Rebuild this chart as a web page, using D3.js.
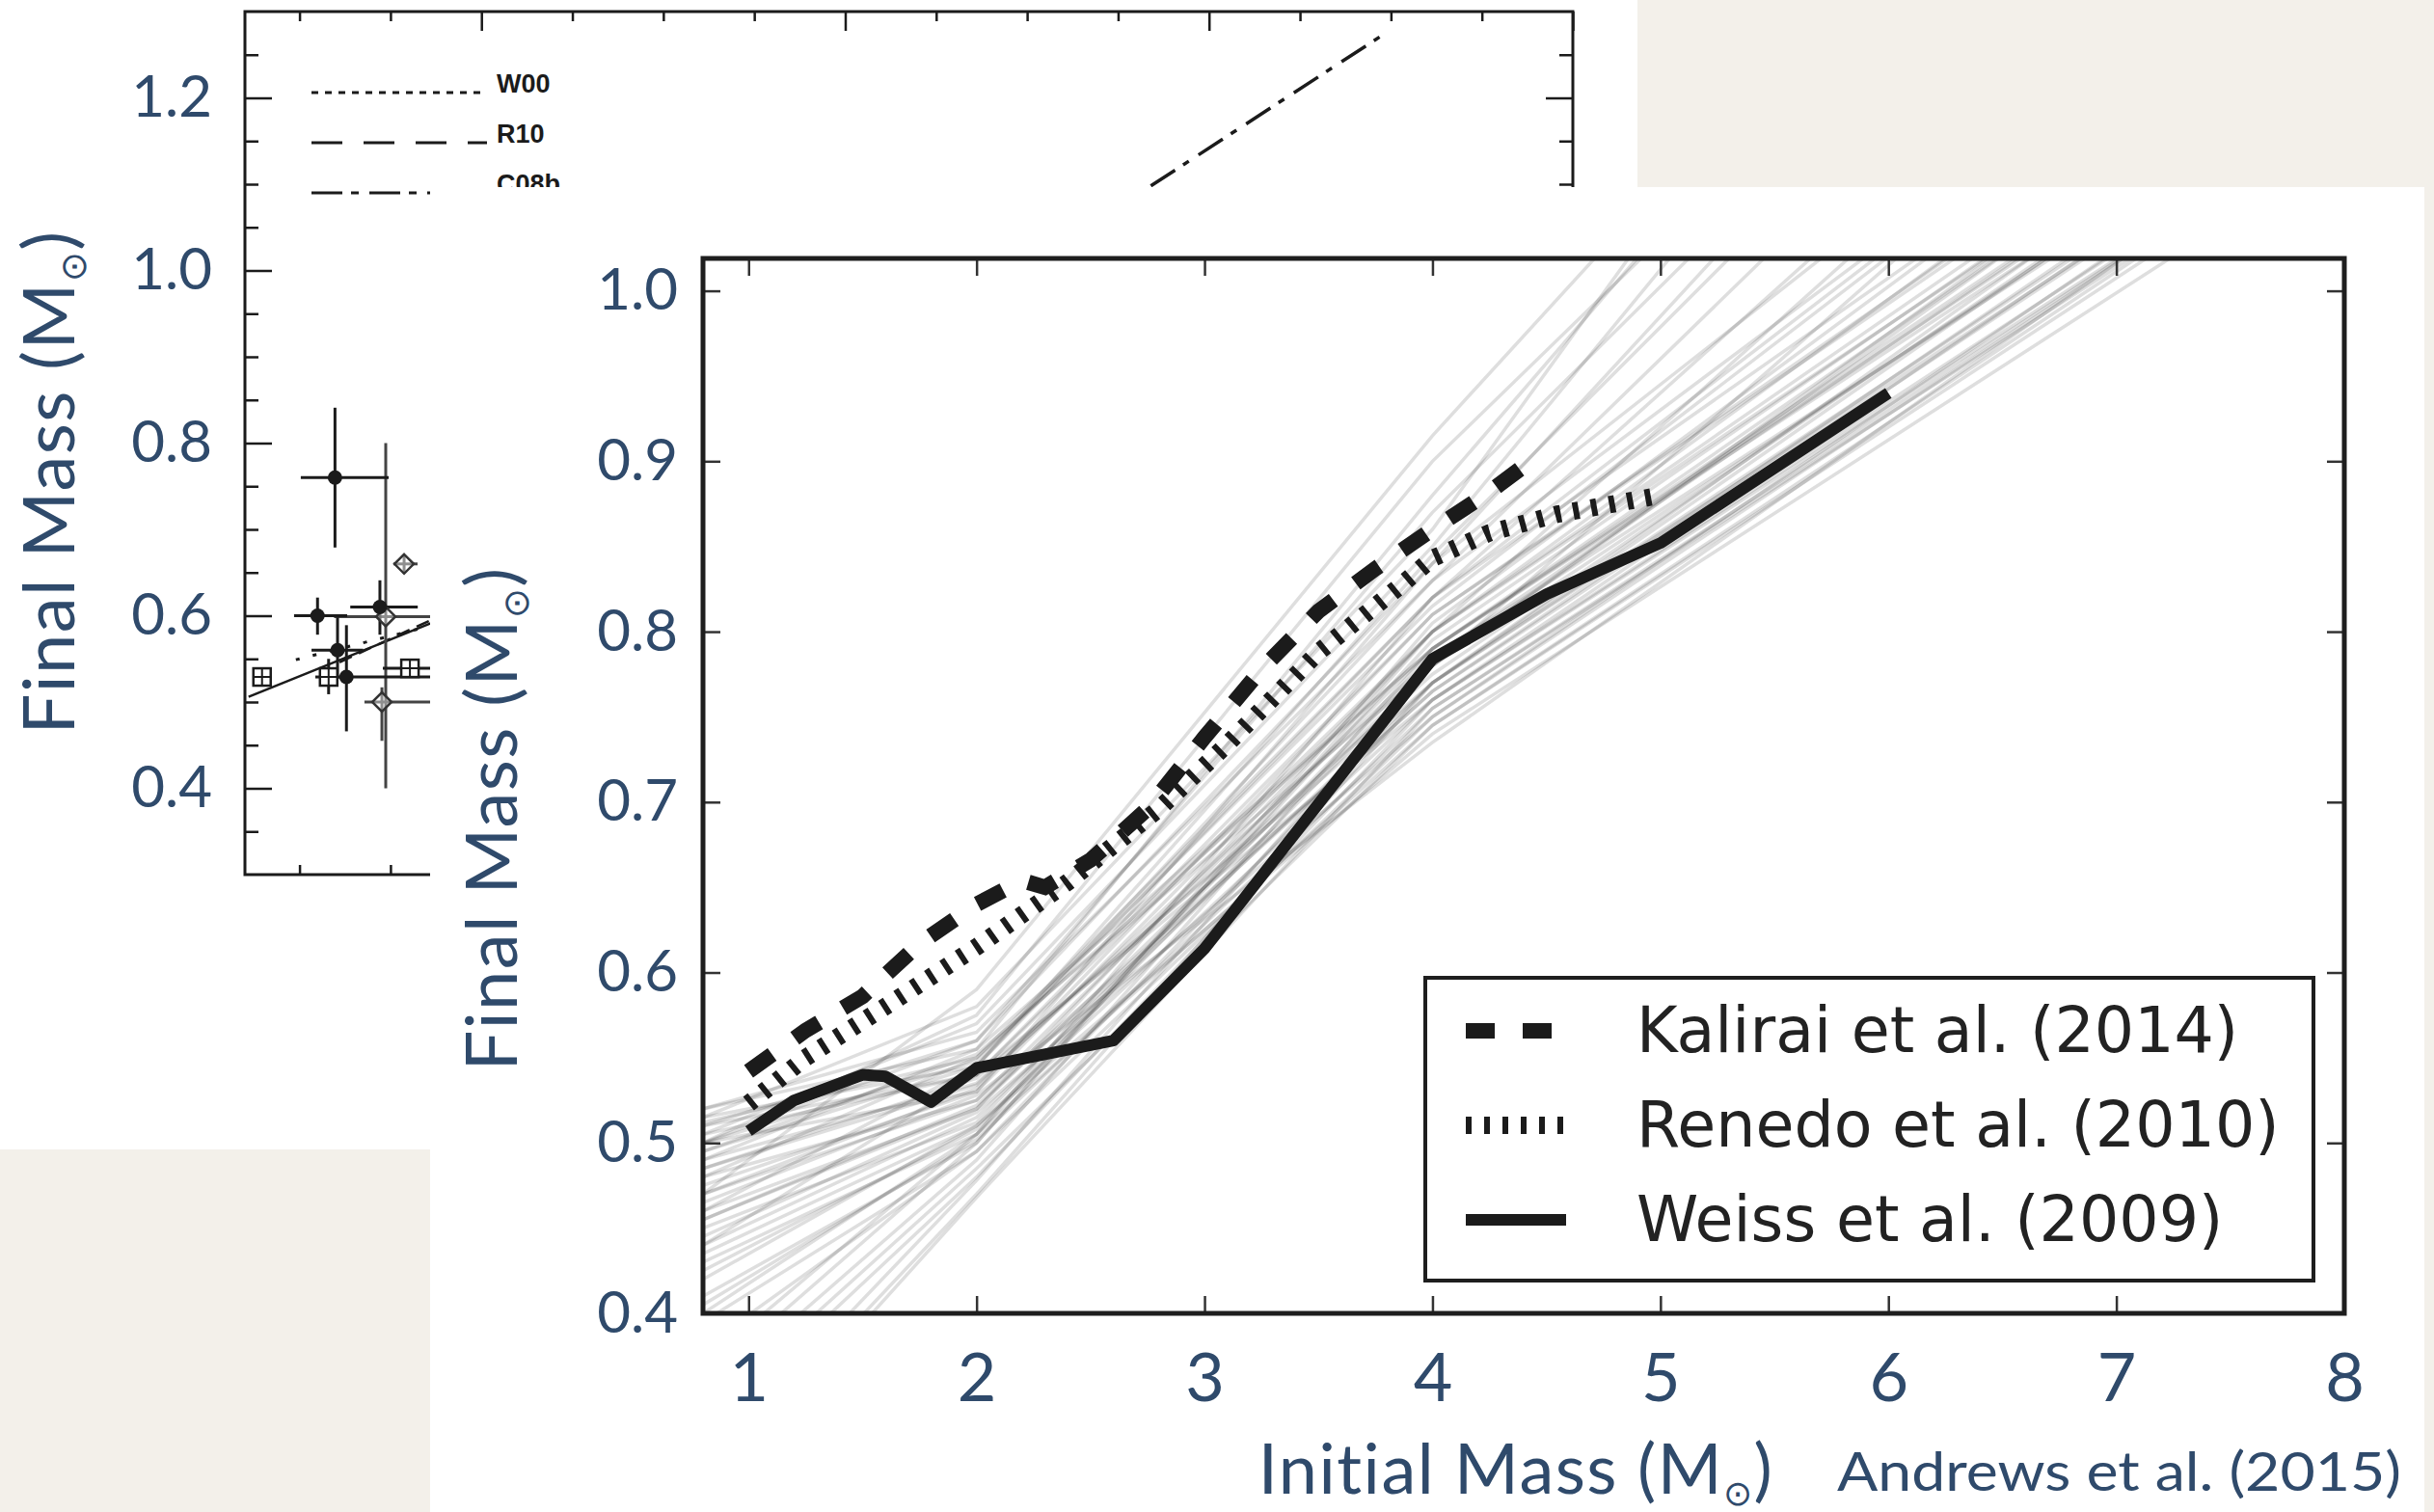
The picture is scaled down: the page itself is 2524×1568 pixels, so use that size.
<!DOCTYPE html>
<html>
<head>
<meta charset="utf-8">
<script src="https://cdn.jsdelivr.net/npm/d3@7"></script>
<style>
  body { margin: 0; background: #f3f0ea; }
  svg { display: block; }
</style>
</head>
<body>
<svg id="slide"></svg>
<script>
// ---------- front figure: Andrews et al. (2015) ----------
const kalMass  = [1.0, 1.25, 1.5, 1.75, 2.0, 2.2, 2.3, 2.5, 2.75, 3.0, 3.25, 3.5, 3.75, 4.0, 4.25, 4.4];
const kalFinal = [0.542, 0.566, 0.586, 0.617, 0.640, 0.654, 0.650, 0.666, 0.696, 0.738, 0.778, 0.812, 0.837, 0.860, 0.882, 0.897];

const renMass  = [1.0, 1.25, 1.6, 2.0, 2.4, 2.8, 3.1, 3.5, 3.85, 4.0, 4.25, 4.55, 5.0];
const renFinal = [0.523, 0.550, 0.580, 0.615, 0.653, 0.696, 0.734, 0.788, 0.826, 0.843, 0.858, 0.869, 0.880];

const weissMass  = [1.0, 1.2, 1.5, 1.6, 1.8, 2.0, 2.6, 3.0, 4.0, 4.5, 5.0, 6.0];
const weissFinal = [0.507, 0.525, 0.540, 0.539, 0.524, 0.544, 0.560, 0.614, 0.784, 0.822, 0.852, 0.940];

// posterior sample relations, final mass at the break masses
const ensMass = [0.8, 2, 4, 8];
const ensFinal = [
  [0.400, 0.505, 0.745, 1.095], [0.420, 0.510, 0.760, 1.110], [0.440, 0.515, 0.770, 1.125],
  [0.460, 0.520, 0.780, 1.135], [0.480, 0.525, 0.790, 1.150], [0.500, 0.530, 0.800, 1.160],
  [0.510, 0.540, 0.810, 1.180], [0.515, 0.545, 0.820, 1.195], [0.490, 0.535, 0.775, 1.140],
  [0.470, 0.525, 0.765, 1.130], [0.450, 0.512, 0.785, 1.150], [0.430, 0.505, 0.795, 1.165],
  [0.410, 0.500, 0.805, 1.200], [0.395, 0.495, 0.770, 1.120], [0.380, 0.495, 0.750, 1.105],
  [0.505, 0.540, 0.760, 1.105], [0.512, 0.550, 0.790, 1.140], [0.495, 0.545, 0.830, 1.230],
  [0.475, 0.530, 0.840, 1.260], [0.455, 0.520, 0.800, 1.170], [0.435, 0.510, 0.740, 1.085],
  [0.465, 0.528, 0.735, 1.110], [0.445, 0.518, 0.750, 1.115], [0.425, 0.508, 0.780, 1.170],
  [0.485, 0.538, 0.770, 1.150], [0.500, 0.548, 0.815, 1.225], [0.520, 0.555, 0.790, 1.145],
  [0.470, 0.532, 0.810, 1.175], [0.330, 0.480, 0.760, 1.125], [0.300, 0.470, 0.770, 1.140],
  [0.350, 0.490, 0.790, 1.160], [0.360, 0.500, 0.800, 1.190], [0.340, 0.485, 0.745, 1.100],
  [0.370, 0.505, 0.820, 1.230], [0.310, 0.478, 0.780, 1.165], [0.290, 0.468, 0.755, 1.100],
  [0.515, 0.580, 0.860, 1.600], [0.505, 0.570, 0.850, 1.500], [0.500, 0.560, 0.840, 1.420],
  [0.490, 0.555, 0.880, 1.500], [0.470, 0.590, 0.915, 1.500], [0.520, 0.565, 0.830, 1.350],
  [0.480, 0.550, 0.820, 1.300], [0.460, 0.545, 0.845, 1.380], [0.510, 0.560, 0.870, 1.400],
  [0.440, 0.540, 0.800, 1.280], [0.500, 0.575, 0.900, 1.420], [0.495, 0.552, 0.780, 1.250],
  [0.455, 0.522, 0.765, 1.120], [0.485, 0.534, 0.785, 1.130], [0.405, 0.502, 0.755, 1.105]
];

const legendNames = ['Kalirai et al. (2014)', 'Renedo et al. (2010)', 'Weiss et al. (2009)'];
const xTickLabels = [1, 2, 3, 4, 5, 6, 7, 8];
const yTickLabels = [0.4, 0.5, 0.6, 0.7, 0.8, 0.9, 1.0];

// ---------- back figure (older comparison plot) ----------
const bgLegendNames = ['W00', 'R10', 'C08b'];
const bgYTickLabels = [0.4, 0.6, 0.8, 1.0, 1.2];

const bgDotMass     = [1.195, 1.099, 1.442, 1.209, 1.258];
const bgDotFinal    = [0.760, 0.600, 0.610, 0.560, 0.529];
const bgDotMassLo   = [1.007, 0.970, 1.279, 1.066, 1.145];
const bgDotMassHi   = [1.490, 1.262, 1.650, 1.350, 1.800];
const bgDotFinalLo  = [0.679, 0.578, 0.578, 0.531, 0.466];
const bgDotFinalHi  = [0.841, 0.621, 0.641, 0.598, 0.589];

const bgDiaMass     = [1.575, 1.474, 1.453];
const bgDiaFinal    = [0.660, 0.599, 0.500];
const bgDiaMassLo   = [1.516, 1.190, 1.357];
const bgDiaMassHi   = [1.649, 1.800, 1.800];
const bgDiaFinalLo  = [0.649, 0.400, 0.455];
const bgDiaFinalHi  = [0.671, 0.800, 0.517];

const bgSqMass      = [0.794, 1.160, 1.607];
const bgSqFinal     = [0.529, 0.529, 0.539];
const bgSqMassLo    = [0.794, 1.087, 1.458];
const bgSqMassHi    = [0.794, 1.235, 1.800];
const bgSqFinalLo   = [0.529, 0.509, 0.539];
const bgSqFinalHi   = [0.529, 0.550, 0.539];

const w00Mass = [0.98, 2.0],  w00Final = [0.549, 0.603];
const r10Mass = [1.22, 2.0],  r10Final = [0.546, 0.622];
const fitMass = [0.72, 2.0],  fitFinal = [0.506, 0.615];
const c08Mass = [5.68, 6.97], c08Final = [1.098, 1.275];

// ---------- drawing ----------
const W = 2524, H = 1568;
const SLATE = '#2f4a6b';
const INK = '#1b1b1b';

const svg = d3.select('#slide').attr('width', W).attr('height', H);
svg.append('rect').attr('width', W).attr('height', H).attr('fill', '#f3f0ea');

function tickStyle(g, color, width) {
    g.select('.domain').remove();
    g.selectAll('.tick text').remove();
    g.selectAll('.tick line').attr('stroke', color).attr('stroke-width', width);
}

function labelStyle(g, family, size, color) {
    g.select('.domain').remove();
    g.selectAll('.tick line').remove();
    g.attr('font-family', null).attr('font-size', null);
    g.selectAll('.tick text')
        .attr('fill', color)
        .style('font-family', family)
        .style('font-size', size + 'px');
}

function massTitle(sel, label) {
    sel.append('tspan').text(label + ' (M');
    sel.append('tspan').text('\u2299').style('font-size', '0.5em').attr('dy', 12);
    sel.append('tspan').text(')').attr('dy', -12);
}

// ===== back figure =====
svg.append('rect').attr('x', 0).attr('y', 0).attr('width', 1698).attr('height', 1192).attr('fill', '#fff');
const back = svg.append('g');

const xb = d3.scaleLinear().domain([0.7, 8]).range([254, 1631]);
const yb = d3.scaleLinear().domain([0.3, 1.3]).range([907, 12]);

const bgMinorX = d3.range(1, 8, 0.5).filter(v => v % 2 !== 0);
const bgMajorX = [2, 4, 6, 8];
const bgMinorY = d3.range(0.35, 1.3, 0.05).filter(v => Math.abs(v * 10 % 2) > 0.01 && Math.abs(v * 10 % 2 - 2) > 0.01);

back.append('g').attr('transform', `translate(0,${yb(1.3)})`)
    .call(d3.axisTop(xb).tickValues(bgMajorX).tickSize(-20)).call(tickStyle, INK, 2.5);
back.append('g').attr('transform', `translate(0,${yb(1.3)})`)
    .call(d3.axisTop(xb).tickValues(bgMinorX).tickSize(-10)).call(tickStyle, INK, 2.5);
back.append('g').attr('transform', `translate(0,${yb(0.3)})`)
    .call(d3.axisBottom(xb).tickValues(bgMajorX).tickSize(-20)).call(tickStyle, INK, 2.5);
back.append('g').attr('transform', `translate(0,${yb(0.3)})`)
    .call(d3.axisBottom(xb).tickValues(bgMinorX).tickSize(-10)).call(tickStyle, INK, 2.5);
back.append('g').attr('transform', `translate(${xb(0.7)},0)`)
    .call(d3.axisLeft(yb).tickValues(bgYTickLabels).tickSize(-28)).call(tickStyle, INK, 2.5);
back.append('g').attr('transform', `translate(${xb(0.7)},0)`)
    .call(d3.axisLeft(yb).tickValues(bgMinorY).tickSize(-14)).call(tickStyle, INK, 2.5);
back.append('g').attr('transform', `translate(${xb(8)},0)`)
    .call(d3.axisRight(yb).tickValues(bgYTickLabels).tickSize(-28)).call(tickStyle, INK, 2.5);
back.append('g').attr('transform', `translate(${xb(8)},0)`)
    .call(d3.axisRight(yb).tickValues(bgMinorY).tickSize(-14)).call(tickStyle, INK, 2.5);

back.append('rect')
    .attr('x', xb(0.7)).attr('y', yb(1.3))
    .attr('width', xb(8) - xb(0.7)).attr('height', yb(0.3) - yb(1.3))
    .attr('fill', 'none').attr('stroke', INK).attr('stroke-width', 3);

const bgLine = (xs, ys) => d3.line().x((d, i) => xb(xs[i])).y(d => yb(d))(ys);

back.append('path').attr('d', bgLine(c08Mass, c08Final))
    .attr('fill', 'none').attr('stroke', INK).attr('stroke-width', 3.5).attr('stroke-dasharray', '30,10,7,12');
back.append('path').attr('d', bgLine(fitMass, fitFinal))
    .attr('fill', 'none').attr('stroke', INK).attr('stroke-width', 2.5);
back.append('path').attr('d', bgLine(r10Mass, r10Final))
    .attr('fill', 'none').attr('stroke', INK).attr('stroke-width', 2.5).attr('stroke-dasharray', '14,8');
back.append('path').attr('d', bgLine(w00Mass, w00Final))
    .attr('fill', 'none').attr('stroke', INK).attr('stroke-width', 3).attr('stroke-dasharray', '4,14');

// back legend
const bgLegDash = ['7,7', '32,22', '32,9,8,11'];
const bgLeg = back.selectAll('.bgleg').data(bgLegendNames).enter().append('g')
    .attr('transform', (d, i) => `translate(323,${96 + i * 52})`);
bgLeg.append('line').attr('x1', 0).attr('x2', 182)
    .attr('stroke', INK).attr('stroke-width', 3)
    .attr('stroke-dasharray', (d, i) => bgLegDash[i]);
bgLeg.append('text').attr('x', 192).attr('y', 0).text(d => d)
    .style('font-family', "'Liberation Sans Narrow', 'Liberation Sans', sans-serif")
    .style('font-size', '27px').style('font-weight', 'bold').attr('fill', INK);

// error bars
function errBars(xs, ys, xlo, xhi, ylo, yhi, color) {
    const g = back.append('g').attr('stroke', color).attr('stroke-width', 3);
    g.selectAll('.h').data(xs).enter().append('line')
        .attr('x1', (d, i) => xb(xlo[i])).attr('x2', (d, i) => xb(xhi[i]))
        .attr('y1', (d, i) => yb(ys[i])).attr('y2', (d, i) => yb(ys[i]));
    g.selectAll('.v').data(xs).enter().append('line')
        .attr('x1', d => xb(d)).attr('x2', d => xb(d))
        .attr('y1', (d, i) => yb(ylo[i])).attr('y2', (d, i) => yb(yhi[i]));
}
errBars(bgDiaMass, bgDiaFinal, bgDiaMassLo, bgDiaMassHi, bgDiaFinalLo, bgDiaFinalHi, '#444');
errBars(bgSqMass, bgSqFinal, bgSqMassLo, bgSqMassHi, bgSqFinalLo, bgSqFinalHi, INK);
errBars(bgDotMass, bgDotFinal, bgDotMassLo, bgDotMassHi, bgDotFinalLo, bgDotFinalHi, INK);

back.selectAll('.dia').data(bgDiaMass).enter().append('path')
    .attr('d', (d, i) => {
        const cx = xb(d), cy = yb(bgDiaFinal[i]);
        return `M${cx},${cy - 10}L${cx + 10},${cy}L${cx},${cy + 10}L${cx - 10},${cy}Z`;
    })
    .attr('fill', '#fff').attr('fill-opacity', 0.4).attr('stroke', '#333').attr('stroke-width', 2.5);

back.selectAll('.sq').data(bgSqMass).enter().append('g')
    .attr('transform', (d, i) => `translate(${xb(d)},${yb(bgSqFinal[i])})`)
    .each(function () {
        const g = d3.select(this);
        g.append('rect').attr('x', -9).attr('y', -9).attr('width', 18).attr('height', 18)
            .attr('fill', '#fff').attr('stroke', INK).attr('stroke-width', 2.5);
        g.append('path').attr('d', 'M-9,0H9M0,-9V9').attr('stroke', INK).attr('stroke-width', 2);
    });

back.selectAll('.dot').data(bgDotMass).enter().append('circle')
    .attr('cx', d => xb(d)).attr('cy', (d, i) => yb(bgDotFinal[i])).attr('r', 7.5)
    .attr('fill', INK);

// slide text over the back figure
back.append('g').attr('transform', `translate(${xb(0.7)},0)`)
    .call(d3.axisLeft(yb).tickValues(bgYTickLabels).tickSize(0).tickPadding(34).tickFormat(d3.format('.1f')))
    .call(labelStyle, 'Lato', 60, SLATE);

back.append('text')
    .attr('transform', 'translate(77,500) rotate(-90)')
    .attr('text-anchor', 'middle').attr('fill', SLATE)
    .style('font-family', 'Lato').style('font-size', '74px').style('letter-spacing', '1.5px')
    .call(massTitle, 'Final Mass');

// ===== front figure =====
svg.append('rect').attr('x', 446).attr('y', 194).attr('width', 2068).attr('height', 1374).attr('fill', '#fff');
const front = svg.append('g');

const x = d3.scaleLinear().domain([0.8, 8]).range([729, 2431]);
const y = d3.scaleLinear().domain([0.4, 1.019]).range([1362, 268]);

front.append('clipPath').attr('id', 'plotclip').append('rect')
    .attr('x', x(0.8)).attr('y', y(1.019))
    .attr('width', x(8) - x(0.8)).attr('height', y(0.4) - y(1.019));

const plot = front.append('g').attr('clip-path', 'url(#plotclip)');

plot.selectAll('.ens').data(ensFinal).enter().append('path')
    .attr('d', d3.line().x((d, i) => x(ensMass[i])).y(d => y(d)))
    .attr('fill', 'none').attr('stroke', '#000').attr('stroke-opacity', 0.13).attr('stroke-width', 3.5);

const fgLine = (xs, ys) => d3.line().x((d, i) => x(xs[i])).y(d => y(d))(ys);

plot.append('path').attr('d', fgLine(weissMass, weissFinal))
    .attr('fill', 'none').attr('stroke', INK).attr('stroke-width', 12).attr('stroke-linejoin', 'round');
plot.append('path').attr('d', fgLine(renMass, renFinal))
    .attr('fill', 'none').attr('stroke', INK).attr('stroke-width', 18).attr('stroke-dasharray', '6,13');
plot.append('path').attr('d', fgLine(kalMass, kalFinal))
    .attr('fill', 'none').attr('stroke', INK).attr('stroke-width', 16).attr('stroke-dasharray', '30,29');

// ticks (inward) and frame
const fgTickX = [1, 2, 3, 4, 5, 6, 7];
const fgTickY = [0.5, 0.6, 0.7, 0.8, 0.9, 1.0];
front.append('g').attr('transform', `translate(0,${y(0.4)})`)
    .call(d3.axisBottom(x).tickValues(fgTickX).tickSize(-18)).call(tickStyle, '#333', 2.5);
front.append('g').attr('transform', `translate(0,${y(1.019)})`)
    .call(d3.axisTop(x).tickValues(fgTickX).tickSize(-18)).call(tickStyle, '#333', 2.5);
front.append('g').attr('transform', `translate(${x(0.8)},0)`)
    .call(d3.axisLeft(y).tickValues(fgTickY).tickSize(-18)).call(tickStyle, '#333', 2.5);
front.append('g').attr('transform', `translate(${x(8)},0)`)
    .call(d3.axisRight(y).tickValues(fgTickY).tickSize(-18)).call(tickStyle, '#333', 2.5);

front.append('rect')
    .attr('x', x(0.8)).attr('y', y(1.019))
    .attr('width', x(8) - x(0.8)).attr('height', y(0.4) - y(1.019))
    .attr('fill', 'none').attr('stroke', '#1e1e1e').attr('stroke-width', 5);

// legend
const legDash = ['30,29', '6,13', null];
const legWidth = [16, 18, 12];
front.append('rect').attr('x', 1478).attr('y', 1014).attr('width', 921).attr('height', 314)
    .attr('fill', '#fff').attr('stroke', '#1e1e1e').attr('stroke-width', 4);
const leg = front.selectAll('.leg').data(legendNames).enter().append('g')
    .attr('transform', (d, i) => `translate(1520,${1069 + i * 98})`);
leg.append('line').attr('x1', 0).attr('x2', 104)
    .attr('stroke', INK)
    .attr('stroke-width', (d, i) => legWidth[i])
    .attr('stroke-dasharray', (d, i) => legDash[i]);
leg.append('text').attr('x', 177).attr('y', 22).text(d => d)
    .attr('fill', '#222')
    .style('font-family', "'DejaVu Sans', sans-serif").style('font-size', '65px');

// slide text over the front figure
front.append('g').attr('transform', `translate(${x(0.8)},0)`)
    .call(d3.axisLeft(y).tickValues(yTickLabels).tickSize(0).tickPadding(26).tickFormat(d3.format('.1f')))
    .call(labelStyle, 'Lato', 60, SLATE);
front.append('g').attr('transform', `translate(0,${y(0.4)})`)
    .call(d3.axisBottom(x).tickValues(xTickLabels).tickSize(0).tickPadding(41).tickFormat(d3.format('d')))
    .call(labelStyle, 'Lato', 70, SLATE);

front.append('text')
    .attr('transform', 'translate(536,849) rotate(-90)')
    .attr('text-anchor', 'middle').attr('fill', SLATE)
    .style('font-family', 'Lato').style('font-size', '74px').style('letter-spacing', '1.5px')
    .call(massTitle, 'Final Mass');

front.append('text')
    .attr('x', 1572).attr('y', 1549)
    .attr('text-anchor', 'middle').attr('fill', SLATE)
    .style('font-family', 'Lato').style('font-size', '72px').style('letter-spacing', '1.5px')
    .call(massTitle, 'Initial Mass');

front.append('text')
    .attr('x', 1905).attr('y', 1546)
    .attr('fill', SLATE)
    .style('font-family', 'Lato').style('font-size', '57px')
    .attr('textLength', 585).attr('lengthAdjust', 'spacingAndGlyphs')
    .text('Andrews et al. (2015)');
</script>
</body>
</html>
